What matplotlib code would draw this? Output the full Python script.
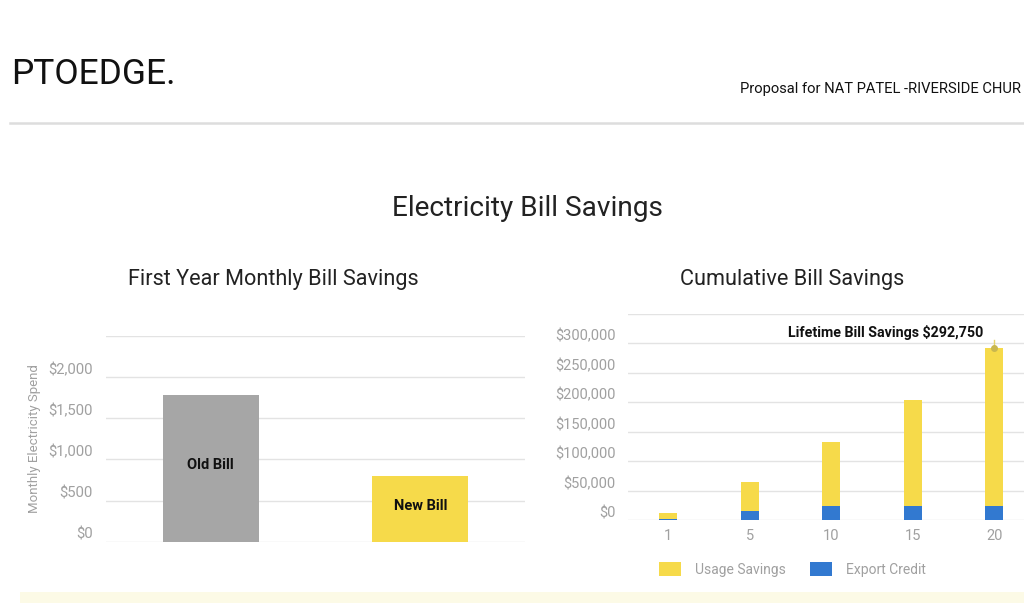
import matplotlib.pyplot as plt
import numpy as np

plt.rcParams['font.family'] = ['Roboto', 'DejaVu Sans']

# data
bill_labels = ["Old Bill", "New Bill"]
bill_values = [1785, 800]
bill_ticks = [0, 500, 1000, 1500, 2000, 2500]
bill_ticklabels = ["$0", "$500", "$1,000", "$1,500", "$2,000", ""]

years = ["1", "5", "10", "15", "20"]
usage_savings = [9200, 48600, 108000, 180200, 268550]
export_credit = [2600, 16300, 24200, 24200, 24200]
cum_ticks = [0, 50000, 100000, 150000, 200000, 250000, 300000, 350000]
cum_ticklabels = ["$0", "$50,000", "$100,000", "$150,000", "$200,000", "$250,000", "$300,000", ""]
lifetime = 292750

W, H = 1024, 603
fig = plt.figure(figsize=(W / 100, H / 100), dpi=100, facecolor="white")

def px_axes(x0, y_top, x1, y_bot):
    return fig.add_axes([x0 / W, 1 - y_bot / H, (x1 - x0) / W, (y_bot - y_top) / H])

grey_txt = "#a0a0a0"
grid_c = "#e3e3e3"
yellow = "#f6da4a"
blue = "#3279d0"

# header
fig.text(11 / W, 1 - 74 / H, "PTOEDGE.", fontsize=25.5, va="center", ha="left", color="#111111")
fig.text(740 / W, 1 - 89.5 / H, "Proposal for NAT PATEL -RIVERSIDE CHUR", fontsize=10.6, va="center", ha="left", color="#111111")
fig.add_artist(plt.Line2D([10 / W, 1], [1 - 123 / H] * 2, color="#dddddd", lw=1.8))
fig.add_artist(plt.Rectangle((20 / W, 0), 1, 11 / H, color="#fcfae6", lw=0))

fig.text(527 / W, 1 - 208 / H, "Electricity Bill Savings", fontsize=20.2, ha="center", va="center", color="#222222")
fig.text(273 / W, 1 - 279 / H, "First Year Monthly Bill Savings", fontsize=15.6, ha="center", va="center", color="#222222")
fig.text(792 / W, 1 - 279 / H, "Cumulative Bill Savings", fontsize=15.6, ha="center", va="center", color="#222222")

# left chart
ax1 = px_axes(106, 335.7, 525, 542)
ax1.bar(range(len(bill_values)), bill_values, width=0.46, color=["#a6a6a6", yellow], zorder=3)
for i, (lab, v) in enumerate(zip(bill_labels, bill_values)):
    ax1.text(i, v / 2 + 40, lab, ha="center", va="center", fontsize=10.5, fontweight="bold", color="#111111", zorder=4)
ax1.set_xlim(-0.5, 1.5)
ax1.set_ylim(0, 2500)
ax1.set_yticks(bill_ticks)
ax1.set_yticklabels(bill_ticklabels, va="bottom")
ax1.set_xticks([])
ax1.grid(axis="y", color=grid_c, lw=1, zorder=0)
ax1.tick_params(axis="y", length=0, pad=9.5, labelsize=10.7, labelcolor=grey_txt)
for s in ax1.spines.values():
    s.set_visible(False)
ax1.set_ylabel("Monthly Electricity Spend", fontsize=9.5, color=grey_txt)
ax1.yaxis.set_label_coords(-0.155, 0.5)

# right chart
ax2 = px_axes(627.5, 313.8, 1035, 520.3)
x = np.arange(len(years))
ax2.bar(x, export_credit, width=0.225, color=blue, zorder=3, label="Export Credit")
ax2.bar(x, usage_savings, width=0.225, bottom=export_credit, color=yellow, zorder=3, label="Usage Savings")
ax2.set_xlim(-0.5, 4.5)
ax2.set_ylim(0, 350000)
ax2.set_yticks(cum_ticks)
ax2.set_yticklabels(cum_ticklabels, va="bottom")
ax2.set_xticks(x)
ax2.set_xticklabels(years)
ax2.grid(axis="y", color=grid_c, lw=1, zorder=0)
ax2.tick_params(axis="y", length=0, pad=8.5, labelsize=10.5, labelcolor=grey_txt)
ax2.tick_params(axis="x", length=0, pad=6, labelsize=10.5, labelcolor=grey_txt)
for s in ax2.spines.values():
    s.set_visible(False)
ax2.plot([4, 4], [lifetime, lifetime + 12000], color="#e6d46a", lw=1, zorder=5)
ax2.plot([4], [lifetime], "o", ms=4, color="#c9b74f", zorder=5)
ax2.text(3.865, lifetime + 25000, "Lifetime Bill Savings $292,750", ha="right", va="center",
         fontsize=10.3, fontweight="bold", color="#111111", zorder=5)

handles, labels = ax2.get_legend_handles_labels()
leg = ax2.legend(handles[::-1], labels[::-1], loc="upper left", bbox_to_anchor=(0.047, -0.14), ncol=2,
                 frameon=False, fontsize=10, handlelength=1.6, handleheight=1.2, columnspacing=1.7,
                 handletextpad=1.0)
for t in leg.get_texts():
    t.set_color(grey_txt)

fig.savefig("out.png", dpi=100, facecolor="white")
